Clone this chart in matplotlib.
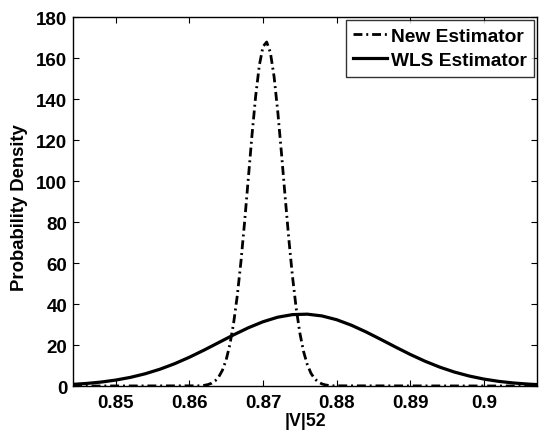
import matplotlib
matplotlib.use("Agg")
import matplotlib.pyplot as plt

plt.rcParams['font.family'] = ['Liberation Sans', 'DejaVu Sans']
plt.rcParams['font.weight'] = 'bold'

# New Estimator: density
new_x = [0.8442, 0.8615, 0.8620, 0.8625, 0.8630, 0.8635, 0.8640, 0.8645, 0.8650, 0.8655,
         0.8660, 0.8665, 0.8670, 0.8675, 0.8680, 0.8685, 0.8690, 0.8695, 0.8700, 0.8705,
         0.8710, 0.8715, 0.8720, 0.8725, 0.8730, 0.8735, 0.8740, 0.8745, 0.8750, 0.8755,
         0.8760, 0.8765, 0.8770, 0.8775, 0.8780, 0.8785, 0.8790, 0.8795, 0.9072]
new_y = [0.0, 0.1, 0.33, 0.68, 1.34, 2.51, 4.52, 7.78, 12.8, 20.2,
         30.4, 43.9, 60.5, 80.0, 101.1, 122.2, 141.3, 156.4, 165.6, 167.8,
         162.7, 151.0, 134.0, 113.8, 92.5, 71.9, 53.5, 38.1, 25.9, 16.9,
         10.6, 6.30, 3.59, 1.96, 1.03, 0.51, 0.25, 0.1, 0.0]

# WLS Estimator: density
wls_x = [0.8442, 0.846, 0.848, 0.850, 0.852, 0.854, 0.856, 0.858, 0.860, 0.862,
         0.864, 0.866, 0.868, 0.870, 0.872, 0.874, 0.876, 0.878, 0.880, 0.882,
         0.884, 0.886, 0.888, 0.890, 0.892, 0.894, 0.896, 0.898, 0.900, 0.902,
         0.904, 0.906, 0.9072]
wls_y = [0.81, 1.24, 1.92, 2.90, 4.22, 5.97, 8.19, 10.88, 14.03, 17.53,
         21.23, 24.94, 28.40, 31.35, 33.57, 34.83, 35.05, 34.19, 32.34, 29.66,
         26.37, 22.73, 19.00, 15.39, 12.09, 9.21, 6.80, 4.87, 3.38, 2.27,
         1.48, 0.94, 0.70]

x_ticks = [0.85, 0.86, 0.87, 0.88, 0.89, 0.90]
x_tick_labels = ['0.85', '0.86', '0.87', '0.88', '0.89', '0.9']
y_ticks = [0, 20, 40, 60, 80, 100, 120, 140, 160, 180]

fig = plt.figure(figsize=(5.39, 4.35), dpi=100)
ax = fig.add_axes([0.1354, 0.1103, 0.8609, 0.8483])

ax.plot(new_x, new_y, color='black', lw=2.0, linestyle=(0, (3.2, 1.4, 0.7, 1.4)),
        label='New Estimator')
ax.plot(wls_x, wls_y, color='black', lw=2.3, linestyle='-', label='WLS Estimator')

ax.set_xlim(0.8442, 0.9072)
ax.set_ylim(0, 180)
ax.set_xticks(x_ticks)
ax.set_xticklabels(x_tick_labels)
ax.set_yticks(y_ticks)
ax.tick_params(direction='in', top=True, right=True, length=4, width=0.8,
               labelsize=13.5)
ax.tick_params(axis='x', pad=6)
ax.tick_params(axis='y', pad=4)
for lab in ax.get_xticklabels() + ax.get_yticklabels():
    lab.set_fontweight('bold')
for s in ax.spines.values():
    s.set_linewidth(1.0)

ax.set_xlabel('|V|52', fontsize=12.8, fontweight='bold')
ax.set_ylabel('Probability Density', fontsize=13.3, fontweight='bold')
ax.xaxis.set_label_coords(0.5, -0.071)
ax.yaxis.set_label_coords(-0.097, 0.487)

leg = ax.legend(loc='upper right', fontsize=13.8, frameon=True, fancybox=False,
                edgecolor='black', borderaxespad=0.15, handlelength=1.75,
                handletextpad=0.2, borderpad=0.4, labelspacing=0.35)
leg.get_frame().set_linewidth(1.0)
for t in leg.get_texts():
    t.set_fontweight('bold')

fig.savefig('out.png', dpi=100)
